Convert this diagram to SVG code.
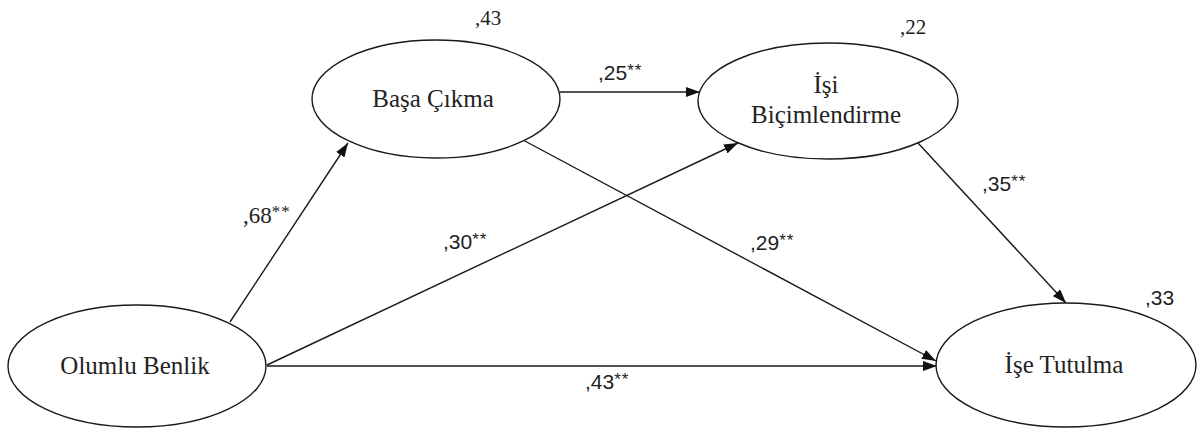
<svg xmlns="http://www.w3.org/2000/svg" width="1197" height="432" viewBox="0 0 1197 432">
<style>
.node{fill:#fff;stroke:#1a1a1a;stroke-width:1.4}
.nt{font-family:"Liberation Serif","DejaVu Serif",serif;font-size:25px;fill:#222;text-anchor:middle}
.edge{stroke:#1a1a1a;stroke-width:1.4;fill:none;marker-end:url(#ah)}
.lab{font-family:"Liberation Sans",Arial,sans-serif;font-size:21px;fill:#222}
.sup{font-size:17px;letter-spacing:1px}
.r2s{font-family:"Liberation Serif","DejaVu Serif",serif;font-size:21px;fill:#222}
.labs{font-family:"Liberation Serif","DejaVu Serif",serif;font-size:23px;fill:#222}
</style>
<defs>
<marker id="ah" markerUnits="userSpaceOnUse" markerWidth="14" markerHeight="10" viewBox="0 0 14 10" refX="14" refY="5" orient="auto">
<path d="M0,0 L14,5 L0,10 Z" fill="#111"/>
</marker>
</defs>
<rect width="1197" height="432" fill="#fff"/>
<g id="connectors">
<line class="edge" x1="230" y1="322" x2="348" y2="143"/>
<line class="edge" x1="560" y1="92" x2="700" y2="92"/>
<line class="edge" x1="267" y1="365" x2="738" y2="143"/>
<line class="edge" x1="523" y1="140" x2="936" y2="361"/>
<line class="edge" x1="267" y1="366" x2="937" y2="366"/>
<line class="edge" x1="918" y1="143" x2="1066" y2="303"/>
</g>
<g id="edge-labels">
<text class="labs" x="243" y="223">,68<tspan class="sup" dy="-6">**</tspan></text>
<text class="lab" x="443" y="249">,30<tspan class="sup" dy="-4">**</tspan></text>
<text class="lab" x="598" y="80">,25<tspan class="sup" dy="-4">**</tspan></text>
<text class="lab" x="750" y="250">,29<tspan class="sup" dy="-4">**</tspan></text>
<text class="lab" x="982" y="191">,35<tspan class="sup" dy="-4">**</tspan></text>
<text class="lab" x="585" y="389">,43<tspan class="sup" dy="-4">**</tspan></text>
</g>
<g id="olumlu-benlik">
<ellipse class="node" cx="137" cy="366" rx="129" ry="61"/>
<text class="nt" x="135" y="374">Olumlu Benlik</text>
</g>
<g id="basa-cikma">
<ellipse class="node" cx="436" cy="99" rx="124" ry="59"/>
<text class="nt" x="433" y="107">Başa Çıkma</text>
<text class="r2s" x="475" y="25">,43</text>
</g>
<g id="isi-bicimlendirme">
<ellipse class="node" cx="828" cy="101" rx="130" ry="58"/>
<text class="nt" x="826" y="93">İşi</text>
<text class="nt" x="826" y="123">Biçimlendirme</text>
<text class="r2s" x="900" y="34">,22</text>
</g>
<g id="ise-tutulma">
<ellipse class="node" cx="1066" cy="365" rx="130" ry="62"/>
<text class="nt" x="1064" y="373">İşe Tutulma</text>
<text class="lab" x="1145" y="305">,33</text>
</g>
</svg>
